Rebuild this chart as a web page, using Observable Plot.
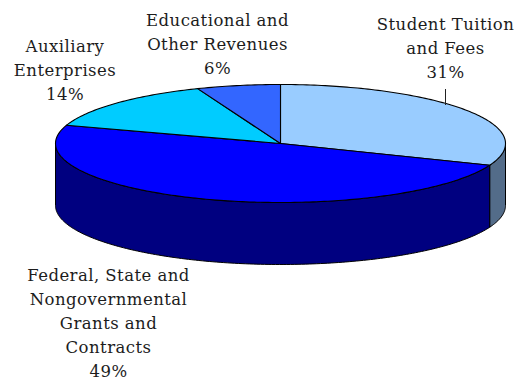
<!DOCTYPE html>
<html>
<head>
<meta charset="utf-8">
<script src="https://cdn.jsdelivr.net/npm/d3@7"></script>
<script src="https://cdn.jsdelivr.net/npm/@observablehq/plot@0.6"></script>
<style>
  html, body { margin: 0; padding: 0; background: #fff; }
  svg { display: block; }
</style>
</head>
<body>
<div id="chart"></div>
<script>
// Revenue shares, clockwise from twelve o'clock
const categories = [
  "Student Tuition\nand Fees",
  "Federal, State and\nNongovernmental\nGrants and\nContracts",
  "Auxiliary\nEnterprises",
  "Educational and\nOther Revenues"
];
const shares = [31, 49, 14, 6];
const topColors = ["#99CCFF", "#0000FF", "#00CCFF", "#3366FF"];
const wallColors = ["#536C89", "#000080", "#0099BF", "#264DBF"];

// Tilted disc geometry
const disc = {cx: 280, cy: 143, rx: 225, ry: 59, depth: 62};
// Label anchors, one per category (top of the first line)
const labelX = [445, 108, 64.5, 217];
const labelY = [12, 263, 34, 8];

const total = d3.sum(shares);
const rim = (t, drop = 0) => ({
  x: disc.cx + disc.rx * Math.sin(t),
  y: disc.cy - disc.ry * Math.cos(t) + drop
});
const arc = (t0, t1, drop = 0) => {
  const n = Math.max(2, Math.ceil(Math.abs(t1 - t0) * 60));
  return d3.range(n + 1).map((i) => rim(t0 + (t1 - t0) * i / n, drop));
};

// Angular extent of each slice
let running = 0;
const slices = shares.map((v, i) => {
  const t0 = running / total * 2 * Math.PI;
  running += v;
  return {i, t0, t1: running / total * 2 * Math.PI};
});

// Top faces: centre, then the rim of the slice
const faces = slices.flatMap(({i, t0, t1}) =>
  [{x: disc.cx, y: disc.cy}, ...arc(t0, t1), {x: disc.cx, y: disc.cy}]
    .map((p) => ({...p, id: i, color: topColors[i]})));

// Outer walls: only the part of each rim that faces the viewer
const walls = slices.flatMap(({i, t0, t1}) => {
  const a = Math.max(t0, Math.PI / 2), b = Math.min(t1, 3 * Math.PI / 2);
  if (b <= a) return [];
  const outline = [...arc(a, b), ...arc(b, a, disc.depth)];
  return [...outline, outline[0]].map((p) => ({...p, id: i, color: wallColors[i]}));
});

const labels = categories.map((name, i) => ({
  text: `${name}\n${shares[i]}%`, x: labelX[i], y: labelY[i]
}));

const chart = Plot.plot({
  width: 520,
  height: 379,
  margin: 0,
  x: {domain: [0, 520], range: [0, 520], axis: null},
  y: {domain: [0, 379], range: [0, 379], axis: null},
  style: {background: "#fff", letterSpacing: "0.45px"},
  marks: [
    Plot.line(walls, {x: "x", y: "y", z: "id", fill: "color", stroke: "#000", strokeWidth: 1, curve: "linear"}),
    Plot.line(faces, {x: "x", y: "y", z: "id", fill: "color", stroke: "#000", strokeWidth: 1.1, curve: "linear"}),
    // Leader from the tuition label down to its slice
    Plot.ruleX([445], {y1: 89, y2: 105, stroke: "#222", strokeWidth: 1}),
    Plot.text(labels, {
      x: "x", y: "y", text: "text",
      fontFamily: "'DejaVu Serif', serif", fontSize: 16.5, lineHeight: 1.46,
      lineAnchor: "top", textAnchor: "middle", fill: "#1c1c1c"
    })
  ]
});
document.getElementById("chart").append(chart);
</script>
</body>
</html>
